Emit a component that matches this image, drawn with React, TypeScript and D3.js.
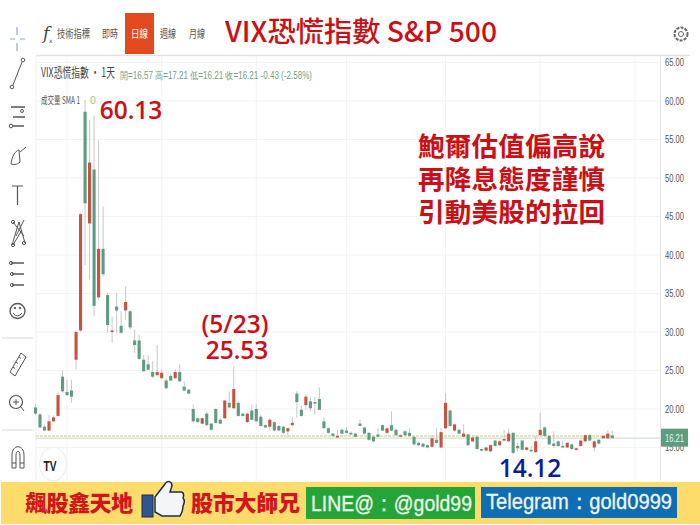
import * as d3 from 'd3'

const WIDTH = 700
const HEIGHT = 525

const opens = [20.2,19.3,17.7,17.2,18.4,19.1,24.2,22.2,22.4,26.4,30.2,58.6,44.1,51.1,34.5,40.8,34.8,30,33.3,30.8,32.8,32.7,28.9,28.9,26.4,25.8,24.8,24.4,24,23.7,24.3,24,24.8,22.9,22.5,20,18.8,18.1,19.4,18.1,20,18.6,18.8,20.8,20.1,20.8,19.4,18.3,19.8,20,19,17.9,17.7,18.3,17.8,17.7,17.1,17.9,22,19.9,20.5,21,20.9,21.3,18.4,17.5,16.8,16.3,17.3,17.2,16.9,16.8,18.1,17.6,16.9,16.4,16.7,17.9,16.9,17.9,17.3,16.4,17.1,16.9,16.4,15.6,15.5,15.3,15.1,16,15,17.5,19.8,17.2,17.3,16.4,16.7,15.8,16.4,14.8,14.6,14.5,15.9,15.3,15.9,15.8,16.9,15.2,15.9,14.7,14.7,14.4,16.6,17.6,16.5,15.5,15.8,15.2,15,15.4,14.7,15.2,15.8,16.6,15,16,16.2,16.2,16.57]
const highs = [20.6,19.5,17.9,19.2,19.2,22.2,25,23.8,23.8,30.2,45.5,60.13,57.5,58.1,54.9,46.3,35.1,32,35.1,32.7,35.9,32.8,30.3,29.6,27,27,26.2,28.3,25.2,24,24.6,25.2,25.8,23.6,22.6,20.6,18.9,18.9,19.6,18.2,20.1,18.8,21.2,22.3,25.53,21,19.5,19.5,20.6,20.6,19.2,18,18.8,18.4,17.9,17.8,17.6,19,22.3,20.4,21.9,21.6,21.6,22.8,18.9,17.6,16.9,17.3,17.5,17.7,17.1,16.9,18.6,17.7,17,16.5,17.5,18,17.6,19.7,17.5,16.7,17.3,17.5,16.5,15.8,15.6,15.4,16.6,17.5,17.5,22.1,19.9,18.1,17.5,18,16.8,16.5,16.5,14.9,15.1,15.4,16,15.9,17.3,17.5,17,15.6,16,15.1,15.2,16.5,19.5,17.7,16.6,17.1,15.9,15.9,15.7,15.5,15,16,16.7,16.8,15.9,16.1,16.6,17.2,17.21]
const lows = [19.2,17.5,17.1,17.1,18.3,19,22.1,21.7,20.8,25.1,30,38.7,36.8,32.1,34.2,37.2,29.9,28.6,29.9,29.8,31.6,30.3,27.3,26.4,24.9,25,24,24.2,23.9,22.6,23.6,23.9,23.5,22.3,21.9,18.2,18.2,18,17.8,17.2,18.1,18,18.7,20.1,20,19,19,18.2,18.5,18.3,17.7,17.5,17.2,17.1,17.1,16.8,16.4,17.8,18.9,19,19.9,19.7,19.3,19.9,17.5,16.8,16.4,16.2,16.7,16.8,16.6,16.3,17.8,16.7,15.9,15.7,16.3,17.1,16.8,17.1,16.5,16.3,16.5,16.4,15.3,15.2,15,14.9,15,15.5,14.9,17.4,17.7,17,16.7,16.3,15.2,15.7,14.7,14.5,14.5,14.4,15.1,15.2,15.8,15.7,14.12,14.4,14.6,14.6,14.4,14.3,16.5,16.4,15.3,15,15.1,14.9,14.9,14.7,14.6,15.1,15.7,15.8,14.5,15.4,16.1,16.1,16.21]
const closes = [19.4,17.6,17.2,18.4,18.9,21.8,22.3,21.8,21.6,30,45.3,46.7,52,33.4,40.8,37.5,30.9,30.2,32.8,29.9,33.9,30.6,28.3,26.5,24.9,25.1,24.2,24.8,24.7,22.7,23.7,24.8,23.6,22.4,22,18.4,18.3,18.8,17.9,17.3,18.2,18.1,21.1,20.2,22.6,19.1,19.1,19.4,18.6,18.4,17.8,17.6,18.6,17.2,17.2,16.9,17.5,18.2,20.9,19.1,21.6,20.1,20.7,19.9,17.5,16.9,16.5,16.5,16.8,16.9,16.7,16.4,17.8,16.8,16,15.8,16.4,17.2,17.5,17.2,16.6,16.6,16.6,16.5,15.4,15.3,15.1,15,16.2,15.6,17,20.8,17.8,18,16.8,16.8,15.3,16.3,14.8,14.6,15,15.3,15.2,15.8,16.1,16.8,14.3,14.9,14.7,15,14.5,15.8,17.3,16.5,15.4,15.2,15.2,15,15.6,14.8,14.9,15.9,16.6,15.9,15.8,15.5,16.5,16.8,16.21]

const priceTicks = [65, 60, 55, 50, 45, 40, 35, 30, 25, 20, 15]
const gridIndexes = [7, 28, 49, 69, 91, 112, 133]
const lastPrice = 16.21
const volumeBand = 16.5

const menuItems = [
  { label: '技術指標', x: 73.5, w: 33 },
  { label: '即時', x: 110, w: 16 },
  { label: '週線', x: 168, w: 16 },
  { label: '月線', x: 197, w: 16 },
]
const ohlcLegend = '開=16.57 高=17.21 低=16.21 收=16.21 -0.43 (-2.58%)'
const noteLines = ['鮑爾估值偏高說', '再降息態度謹慎', '引動美股的拉回']

const UP = '#c4533f'
const DOWN = '#5d9c7f'
const RED_TEXT = '#cc0f14'
const CJK = '"Noto Sans CJK TC", "Noto Sans", sans-serif'
const NARROW = '"Liberation Sans", sans-serif'

function Toolbar() {
  const ink = '#555'
  return (
    <g fill="none" stroke={ink} strokeWidth="1">
      <g stroke="#8fa8d8" strokeWidth="1.2">
        <path d="M17 27v8M17 43v8M10 39h5M20 39h5" />
      </g>
      <path d="M13 85L22 62" />
      <circle cx="12" cy="87" r="1.8" /><circle cx="23" cy="60" r="1.8" />
      <path d="M11 107H25M13 117H25M13 126H24" strokeWidth="1.3" />
      <circle cx="22" cy="111" r="1.5" /><circle cx="11" cy="126" r="1.8" />
      <path d="M11 164C12 156 15 151 19 150L20 162C17 165 13 165 11 164ZM20 152L26 147" />
      <path d="M12 186H23M17.5 186V205" strokeWidth="1.2" />
      <path d="M12 245L19 222L25 243M13 222L24 236M16 236L24 220M13 245L22 230" />
      <circle cx="13" cy="222" r="1.6" /><circle cx="24" cy="243" r="1.6" /><circle cx="13" cy="245" r="1.6" />
      <path d="M11 263H24M12 274H24M12 285H24" strokeWidth="1.3" />
      <circle cx="11" cy="263" r="1.6" /><circle cx="12" cy="274" r="1.6" /><circle cx="12" cy="285" r="1.6" />
      <circle cx="17.5" cy="311" r="7.5" strokeWidth="1.3" />
      <path d="M13 313Q17.5 319 22 313" />
      <circle cx="15" cy="308" r="0.8" fill={ink} /><circle cx="20" cy="308" r="0.8" fill={ink} />
      <path d="M2 338H33M2 430H33" stroke="#d8d8d8" strokeWidth="1.2" />
      <path d="M10 372L21 353L26 357L15 376ZM13 367l2 1.5M16 362l2 1.5M19 357l2 1.5" />
      <circle cx="16" cy="402" r="6.5" strokeWidth="1.2" />
      <path d="M21 407L24 411M13 402H19M16 399V405" />
      <path d="M12 468V455C12 444 24 444 24 455V468H20V455C20 450 16 450 16 455V468ZM12 463H16M20 463H24" />
    </g>
  )
}

function ThumbIcon() {
  return (
    <g>
      <rect x="142" y="495" width="11" height="22" fill="#33558f" stroke="#1b2c50" strokeWidth="1" />
      <path
        d="M155 497L165 484C167 480 172 481 172 486L170 492H181C184 492 184 496 183 498C185 500 184 504 183 506C183 510 182 513 180 516H162L155 512Z"
        fill="#f3f5f7"
        stroke="#1b2c50"
        strokeWidth="1.5"
      />
    </g>
  )
}

export default function App() {
  const x = d3.scaleLinear().domain([0, opens.length - 1]).range([35.5, 612.3])
  const y = d3.scaleLinear().domain([15, 65]).range([447.5, 62.5])
  const bodyW = 3.1

  return (
    <svg
      width={WIDTH}
      height={HEIGHT}
      viewBox={`0 0 ${WIDTH} ${HEIGHT}`}
      style={{ position: 'absolute', left: 0, top: 0, background: '#fff' }}
    >
      {/* 上のメニュー */}
      <Toolbar />
      <text x="43" y="39" fontFamily="DejaVu Serif" fontStyle="italic" fontSize="17" fill="#444">f</text>
      <text x="49" y="43" fontFamily="DejaVu Sans" fontSize="6" fill="#444">x</text>
      {menuItems.map(d => (
        <text key={d.label} x={d.x} y="38" textAnchor="middle" fontFamily={CJK} fontSize="11" fill="#555" textLength={d.w} lengthAdjust="spacingAndGlyphs">{d.label}</text>
      ))}
      <rect x="125" y="13" width="29" height="41" fill="#e2491f" />
      <text x="139.5" y="38" textAnchor="middle" fontFamily={CJK} fontSize="11" fill="#fff" textLength="17" lengthAdjust="spacingAndGlyphs">日線</text>
      <text x="225" y="42" fontFamily={CJK} fontWeight="500" fontSize="28" fill={RED_TEXT} textLength="272" lengthAdjust="spacingAndGlyphs">VIX恐慌指數 S&amp;P 500</text>
      <g fill="none" stroke="#666">
        <circle cx="681" cy="34" r="2.5" />
        <circle cx="681" cy="34" r="6.5" strokeWidth="2" strokeDasharray="3 1.2" />
      </g>

      {/* 枠とグリッド */}
      <path d="M36 55.5H690" stroke="#e2e2e2" strokeWidth="1.5" />
      <path d="M36 55V480" stroke="#eeeeee" />
      <path d="M660.5 56V481" stroke="#e4e4e4" />
      {priceTicks.map(t => (
        <line key={t} x1="36" x2="660" y1={y(t)} y2={y(t)} stroke="#f3f3f3" />
      ))}
      {gridIndexes.map(i => (
        <line key={i} x1={x(i)} x2={x(i)} y1="56" y2="481" stroke="#f3f3f3" />
      ))}

      {/* 価格ライン */}
      <line x1="36" x2="613" y1={y(volumeBand)} y2={y(volumeBand)} stroke="#e3d7b4" strokeWidth="1.5" strokeDasharray="3 1" />
      <line x1="36" x2="660" y1={y(lastPrice)} y2={y(lastPrice)} stroke="#cfe3d4" strokeWidth="1.2" />

      {/* ローソク足 */}
      {opens.map((o, i) => {
        const c = closes[i]
        const color = c >= o ? UP : DOWN
        const top = y(Math.max(o, c))
        const bottom = y(Math.min(o, c))
        return (
          <g key={i}>
            <line x1={x(i)} x2={x(i)} y1={y(highs[i])} y2={y(lows[i])} stroke="#c2c2c2" strokeWidth="0.9" />
            <rect x={x(i) - bodyW / 2} y={top} width={bodyW} height={Math.max(1.5, bottom - top)} fill={color} />
          </g>
        )
      })}

      {/* 凡例 */}
      <text x="41" y="77" fontFamily={CJK} fontSize="13" fill="#444" textLength="74" lengthAdjust="spacingAndGlyphs">VIX恐慌指數 · 1天</text>
      <text x="120" y="79" fontFamily={NARROW} fontSize="10" fill="#6f9f88" textLength="192" lengthAdjust="spacingAndGlyphs">{ohlcLegend}</text>
      <text x="41" y="104" fontFamily={CJK} fontSize="10" fill="#555" textLength="39" lengthAdjust="spacingAndGlyphs">成交量 SMA 1</text>
      <text x="90" y="104" fontFamily={NARROW} fontSize="10.5" fill="#9ccb7c">0</text>

      {/* 右の目盛 */}
      {priceTicks.map(t => (
        <text key={t} x="674.5" y={y(t) + 3.5} textAnchor="middle" fontFamily={NARROW} fontSize="10.5" fill="#555" textLength="19" lengthAdjust="spacingAndGlyphs">{t.toFixed(2)}</text>
      ))}
      <rect x="661" y={y(lastPrice) - 9.5} width="27" height="18" fill="#5d9c7f" />
      <text x="674.5" y={y(lastPrice) + 3.5} textAnchor="middle" fontFamily={NARROW} fontSize="11" fill="#e8f3ec" textLength="19" lengthAdjust="spacingAndGlyphs">{lastPrice.toFixed(2)}</text>

      {/* 注記 */}
      <g fontFamily='"Open Sans", sans-serif' fontWeight="600" fontSize="24.5" fill={RED_TEXT}>
        <text x="131" y="119" textAnchor="middle">60.13</text>
        <text x="235" y="333" textAnchor="middle">(5/23)</text>
        <text x="237" y="359" textAnchor="middle">25.53</text>
        <text x="530" y="477" textAnchor="middle" fill="#0a1e9c">14.12</text>
      </g>
      <g fontFamily={CJK} fontWeight="700" fontSize="26.5" fill={RED_TEXT}>
        {noteLines.map((line, i) => (
          <text key={line} x="418" y={156 + i * 33} textLength="187">{line}</text>
        ))}
      </g>

      {/* TradingView ロゴ */}
      <ellipse cx="53" cy="464" rx="13.5" ry="17" fill="#fff" stroke="#ececec" />
      <text x="50" y="471" textAnchor="middle" fontFamily="Liberation Sans" fontWeight="700" fontSize="15" fill="#222" textLength="13" lengthAdjust="spacingAndGlyphs">TV</text>

      {/* 下の帯 */}
      <rect x="1" y="482" width="699" height="42" fill="#fedc6b" />
      <g fontFamily={CJK} fontWeight="900" fontSize="22" fill="#d4141c">
        <text x="25" y="511" textLength="108">飆股鑫天地</text>
        <text x="191" y="511" textLength="109">股市大師兄</text>
      </g>
      <ThumbIcon />
      <rect x="306" y="487" width="169" height="32" fill="#25a537" />
      <rect x="481" y="487" width="196" height="31" fill="#0f6db4" />
      <g fontFamily="Liberation Sans" fontWeight="400" fill="#eef7ee" stroke="#eef7ee" strokeWidth="0.3">
        <text x="311" y="511" fontSize="22.5" textLength="161" lengthAdjust="spacingAndGlyphs">LINE@：@gold99</text>
        <text x="486" y="509" fontSize="21.5" textLength="186" lengthAdjust="spacingAndGlyphs">Telegram：gold0999</text>
      </g>
    </svg>
  )
}
